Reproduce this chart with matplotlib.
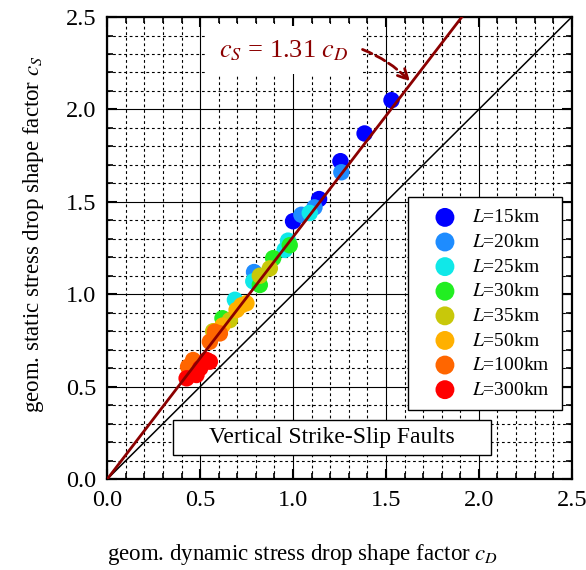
import matplotlib
matplotlib.use("Agg")
import matplotlib.pyplot as plt
from matplotlib.patches import Rectangle
from matplotlib.ticker import MultipleLocator, FormatStrFormatter

plt.rcParams["font.family"] = ["Liberation Serif"]
plt.rcParams["mathtext.fontset"] = "stix"

# data: (c_D, c_S) per fault length
labels = ["15km", "20km", "25km", "30km", "35km", "50km", "100km", "300km"]
colors = ["#0000FF", "#1E8CFF", "#10E8E8", "#22EE22", "#C8C80A", "#FFB000", "#FF6600", "#FF0000"]
cd_15 = [1.53, 1.385, 1.255, 1.14, 1.0]
cs_15 = [2.05, 1.87, 1.72, 1.515, 1.395]
cd_20 = [1.26, 1.045, 0.79, 1.115]
cs_20 = [1.66, 1.43, 1.12, 1.47]
cd_25 = [1.09, 0.973, 0.955, 0.786, 0.687]
cs_25 = [1.44, 1.29, 1.24, 1.07, 0.97]
cd_30 = [0.982, 0.893, 0.821, 0.62]
cs_30 = [1.265, 1.195, 1.05, 0.87]
cd_35 = [0.875, 0.821, 0.66, 0.57]
cs_35 = [1.14, 1.10, 0.86, 0.80]
cd_50 = [0.722, 0.696, 0.749, 0.62]
cs_50 = [0.94, 0.915, 0.951, 0.83]
cd_100 = [0.606, 0.579, 0.552, 0.462, 0.435]
cs_100 = [0.788, 0.797, 0.743, 0.644, 0.608]
cd_300 = [0.534, 0.552, 0.427, 0.48, 0.50]
cs_300 = [0.644, 0.635, 0.545, 0.563, 0.60]
series_cd = [cd_15, cd_20, cd_25, cd_30, cd_35, cd_50, cd_100, cd_300]
series_cs = [cs_15, cs_20, cs_25, cs_30, cs_35, cs_50, cs_100, cs_300]
slope = 1.31

fig = plt.figure(figsize=(5.86, 5.70), dpi=100)
ax = fig.add_axes([0.1831, 0.1596, 0.7925, 0.8105])

for cd, cs, lab, col in zip(series_cd, series_cs, labels, colors):
    ax.scatter(cd, cs, s=140, color=col, edgecolors="none", zorder=3,
               label=r"$L$=" + lab)

ax.plot([0, 2.5], [0, 2.5], color="black", lw=1.1, zorder=2)
ax.plot([0, 2.5 / slope], [0, 2.5], color="#8B0000", lw=2.0, zorder=4)

ax.set_xlim(0, 2.5)
ax.set_ylim(0, 2.5)
ax.xaxis.set_major_locator(MultipleLocator(0.5))
ax.yaxis.set_major_locator(MultipleLocator(0.5))
ax.xaxis.set_minor_locator(MultipleLocator(0.1))
ax.yaxis.set_minor_locator(MultipleLocator(0.1))
ax.xaxis.set_major_formatter(FormatStrFormatter("%.1f"))
ax.yaxis.set_major_formatter(FormatStrFormatter("%.1f"))
ax.grid(True, which="major", color="black", lw=0.8, ls="-")
ax.grid(True, which="minor", color="black", lw=0.8, ls=(0, (2.5, 2.5)))
ax.set_axisbelow(True)
ax.tick_params(which="both", direction="in", top=True, right=True, labelsize=17.5)
ax.tick_params(which="major", length=7, width=1.5, pad=8)
ax.tick_params(which="minor", length=4, width=1.2)
for t in ax.get_xticklabels() + ax.get_yticklabels():
    t.set_fontfamily("Liberation Serif")
for sp in ax.spines.values():
    sp.set_linewidth(1.6)

ax.set_xlabel(r"geom. dynamic stress drop shape factor $c_D$", fontsize=16.5)
ax.xaxis.set_label_coords(0.421, -0.136)
ax.set_ylabel(r"geom. static stress drop shape factor $c_S$", fontsize=16.5)
ax.yaxis.set_label_coords(-0.132, 0.53)

ax.text(0.951, 2.32, r"$c_S$ = 1.31 $c_D$", color="#8B0000", fontsize=19,
        ha="center", va="center", zorder=6,
        bbox=dict(boxstyle="square,pad=0.45", fc="white", ec="none"))
ax.annotate("", xy=(1.64, 2.14), xytext=(1.36, 2.33),
            arrowprops=dict(arrowstyle="->", color="#8B0000", lw=2.0, ls="--",
                            connectionstyle="arc3,rad=-0.12", mutation_scale=18),
            zorder=6)

leg = ax.legend(loc="upper left", bbox_to_anchor=(0.6475, 0.61), fontsize=14,
                frameon=True, fancybox=False, edgecolor="black", framealpha=1,
                handletextpad=0.1, labelspacing=0.36, borderpad=0.6,
                handlelength=2.6, markerscale=1.15, borderaxespad=0)
leg.get_frame().set_linewidth(1.0)
leg.set_zorder(7)

ax.add_patch(Rectangle((0.1415, 0.052), 0.6848, 0.0758, transform=ax.transAxes,
                       fc="white", ec="black", lw=1.0, zorder=7))
ax.text(0.484, 0.090, "Vertical Strike-Slip Faults", transform=ax.transAxes,
        fontsize=17, ha="center", va="center", zorder=8)

fig.savefig("out.png", dpi=100)
